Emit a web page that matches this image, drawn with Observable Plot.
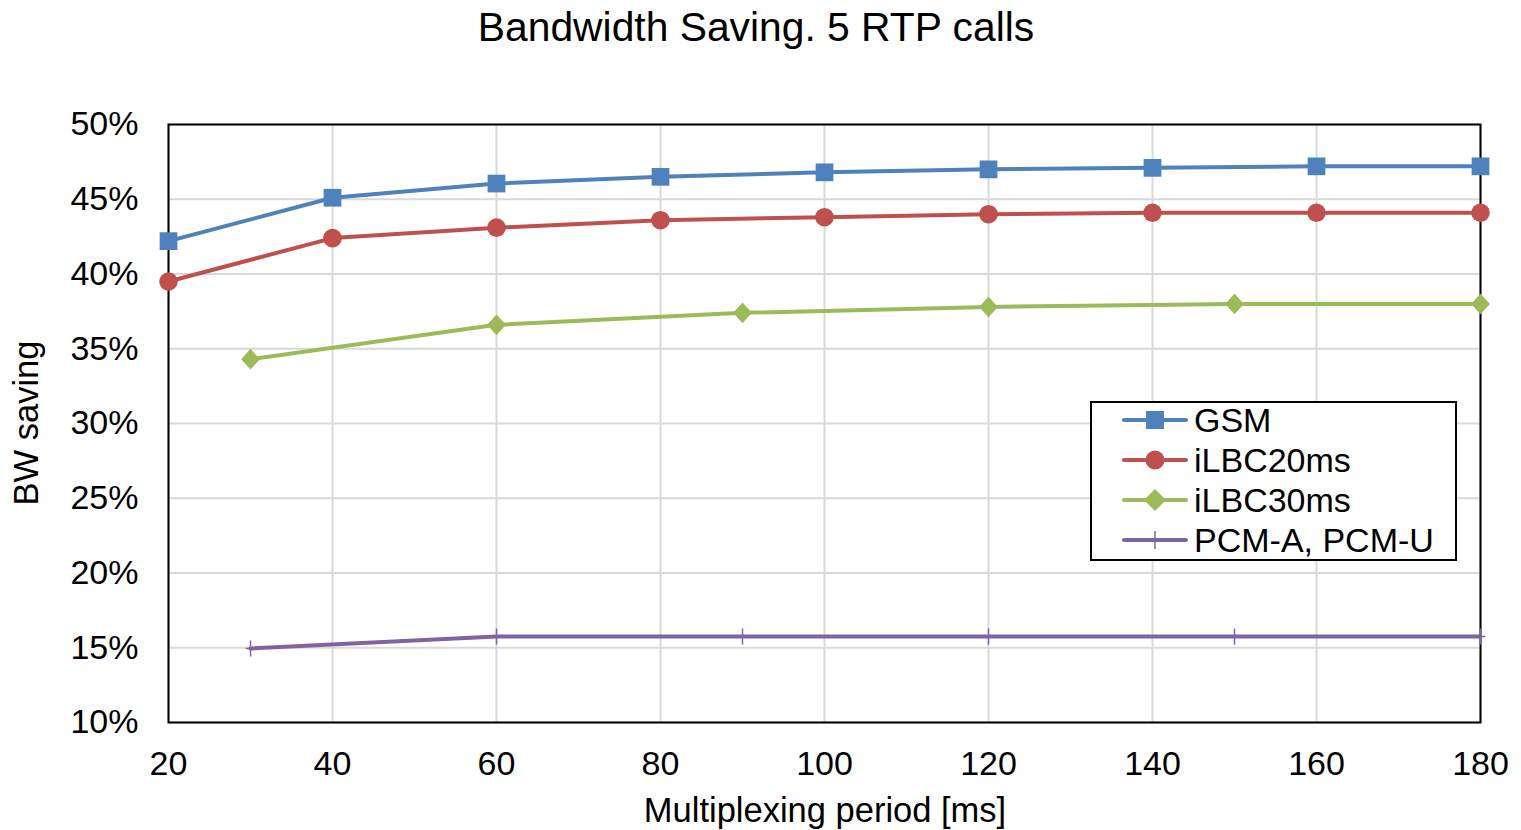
<!DOCTYPE html>
<html>
<head>
<meta charset="utf-8">
<script src="https://cdn.jsdelivr.net/npm/d3@7"></script>
<script src="https://cdn.jsdelivr.net/npm/@observablehq/plot@0.6"></script>
<style>
  html, body { margin: 0; padding: 0; background: #fff; }
  body { font-family: "Liberation Sans", Arial, sans-serif; }
  #wrap { position: relative; width: 1521px; height: 830px; overflow: hidden; }
  #title { position: absolute; top: 27px; left: 756px; transform: translate(-50%, -50%); font-size: 40.8px; color: #000; white-space: nowrap; }
  #ylab { position: absolute; left: 26px; top: 423px; font-size: 34.5px; transform: translate(-50%, -50%) rotate(-90deg); white-space: nowrap; }
  #xlab { position: absolute; left: 825px; top: 810px; font-size: 34.5px; transform: translate(-50%, -50%); white-space: nowrap; }
  #legend { position: absolute; left: 1090px; top: 401px; width: 367px; height: 160px; border: 2px solid #000; background: #fff; box-sizing: border-box; }
  .item { position: absolute; left: 30px; height: 40px; display: flex; align-items: center; font-size: 34px; }
  .item svg { margin-right: 4px; }
</style>
</head>
<body>
<div id="wrap">
  <div id="chart"></div>
  <div id="title">Bandwidth Saving. 5 RTP calls</div>
  <div id="ylab">BW saving</div>
  <div id="xlab">Multiplexing period [ms]</div>
  <div id="legend"></div>
</div>
<script>
// ---- data ----
const seriesNames = ["GSM", "iLBC20ms", "iLBC30ms", "PCM-A, PCM-U"];
const seriesColors = ["#4f81bd", "#c0504d", "#9bbb59", "#8064a2"];
const periodsGSM = [20, 40, 60, 80, 100, 120, 140, 160, 180];
const savingGSM = [0.422, 0.451, 0.4605, 0.465, 0.468, 0.470, 0.471, 0.472, 0.472];
const periodsILBC20 = [20, 40, 60, 80, 100, 120, 140, 160, 180];
const savingILBC20 = [0.395, 0.424, 0.431, 0.436, 0.438, 0.440, 0.441, 0.441, 0.441];
const periodsILBC30 = [30, 60, 90, 120, 150, 180];
const savingILBC30 = [0.343, 0.366, 0.374, 0.378, 0.380, 0.380];
const periodsPCM = [30, 60, 90, 120, 150, 180];
const savingPCM = [0.1495, 0.1575, 0.1575, 0.1575, 0.1575, 0.1575];
const xTicks = [20, 40, 60, 80, 100, 120, 140, 160, 180];
const yTicks = [0.10, 0.15, 0.20, 0.25, 0.30, 0.35, 0.40, 0.45, 0.50];

const periods = [periodsGSM, periodsILBC20, periodsILBC30, periodsPCM];
const savings = [savingGSM, savingILBC20, savingILBC30, savingPCM];
const rows = [];
seriesNames.forEach((s, i) => periods[i].forEach((p, j) => rows.push({series: s, period: p, saving: savings[i][j]})));

const diamond = {
  draw(ctx, size) {
    const r = Math.sqrt(size / 2);
    ctx.moveTo(0, -r); ctx.lineTo(r * 0.9, 0); ctx.lineTo(0, r); ctx.lineTo(-r * 0.9, 0); ctx.closePath();
  }
};
const vtick = {
  draw(ctx, size) {
    const r = Math.sqrt(size) * 0.6;
    ctx.moveTo(0, -r); ctx.lineTo(0, r);
    ctx.moveTo(-r * 0.6, 0); ctx.lineTo(r * 0.6, 0);
  }
};

const color = {domain: seriesNames, range: seriesColors};
const sub = (name) => rows.filter(d => d.series === name);

const chart = Plot.plot({
  width: 1521,
  height: 830,
  marginLeft: 168,
  marginRight: 41,
  marginTop: 124,
  marginBottom: 108,
  style: {fontFamily: "'Liberation Sans', Arial, sans-serif", fontSize: "34px", color: "#000", background: "transparent"},
  x: {domain: [20, 180], label: null},
  y: {domain: [0.10, 0.50], label: null},
  color,
  marks: [
    Plot.gridX(xTicks, {stroke: "#d9d9d9", strokeOpacity: 1, strokeWidth: 2}),
    Plot.gridY(yTicks, {stroke: "#d9d9d9", strokeOpacity: 1, strokeWidth: 2}),
    Plot.frame({stroke: "#000", strokeWidth: 2}),
    Plot.line(rows, {x: "period", y: "saving", z: "series", stroke: "series", strokeWidth: 4}),
    Plot.dot(sub("GSM"), {x: "period", y: "saving", fill: "series", symbol: "square", r: 10}),
    Plot.dot(sub("iLBC20ms"), {x: "period", y: "saving", fill: "series", symbol: "circle", r: 9.3}),
    Plot.dot(sub("iLBC30ms"), {x: "period", y: "saving", fill: "series", symbol: diamond, r: 8.3}),
    Plot.dot(sub("PCM-A, PCM-U"), {x: "period", y: "saving", stroke: "series", symbol: vtick, r: 7.5, strokeWidth: 1.5}),
    Plot.axisX(xTicks, {tickSize: 0, tickPadding: 28, fontSize: 34}),
    Plot.axisY(yTicks, {tickSize: 0, tickPadding: 30, tickFormat: d3.format(".0%"), fontSize: 34})
  ]
});
document.getElementById("chart").appendChild(chart);

// legend
const legend = document.getElementById("legend");
const legendSymbols = [
  (c) => `<rect x="24" y="7" width="18" height="18" fill="${c}"/>`,
  (c) => `<circle cx="33" cy="16" r="9.5" fill="${c}"/>`,
  (c) => `<path d="M33,5L44,16L33,27L22,16Z" fill="${c}"/>`,
  (c) => `<path d="M33,7V25" stroke="${c}" stroke-width="1.5"/>`
];
seriesNames.forEach((name, i) => {
  const c = seriesColors[i];
  const div = document.createElement("div");
  div.className = "item";
  div.style.top = (i * 40 - 3) + "px";
  div.innerHTML = `<svg width="68" height="32"><line x1="2" x2="64" y1="16" y2="16" stroke="${c}" stroke-width="4" stroke-linecap="round"/>${legendSymbols[i](c)}</svg><span>${name}</span>`;
  legend.appendChild(div);
});
</script>
</body>
</html>
